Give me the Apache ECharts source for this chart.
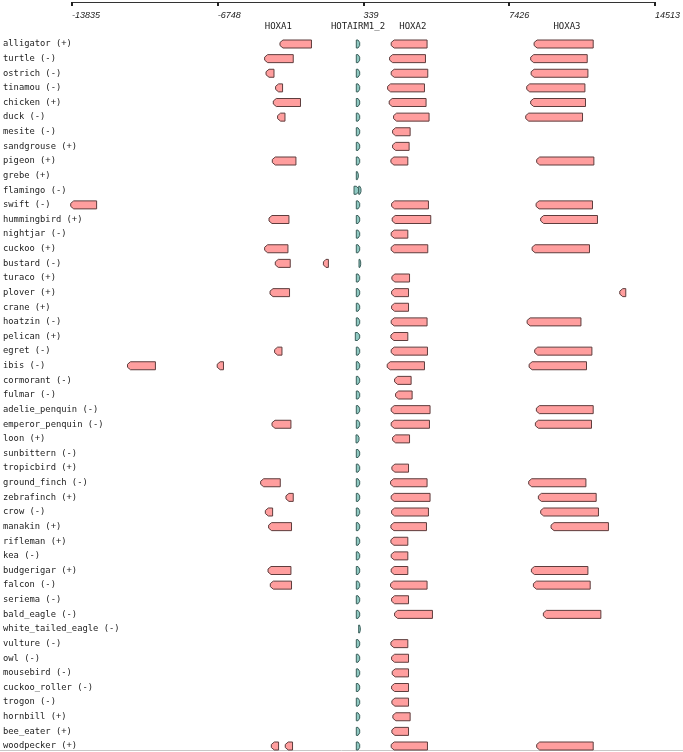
<!DOCTYPE html>
<html>
<head>
<meta charset="utf-8">
<script src="https://cdn.jsdelivr.net/npm/echarts@6/dist/echarts.min.js"></script>
<style>html,body{margin:0;padding:0;background:#fff}#c{width:683px;height:752px}</style>
</head>
<body>
<div id="c"></div>
<script>
const species = ['alligator','turtle','ostrich','tinamou','chicken','duck','mesite','sandgrouse','pigeon','grebe','flamingo','swift','hummingbird','nightjar','cuckoo','bustard','turaco','plover','crane','hoatzin','pelican','egret','ibis','cormorant','fulmar','adelie_penquin','emperor_penquin','loon','sunbittern','tropicbird','ground_finch','zebrafinch','crow','manakin','rifleman','kea','budgerigar','falcon','seriema','bald_eagle','white_tailed_eagle','vulture','owl','mousebird','cuckoo_roller','trogon','hornbill','bee_eater','woodpecker'];
const strands = ['+','-','-','-','+','-','-','+','+','+','-','-','+','-','+','-','+','+','+','-','+','-','-','-','-','-','-','+','-','+','-','+','-','+','+','-','+','-','-','-','-','-','-','-','-','-','+','+','+'];
const xTicks = [-13835, -6748, 339, 7426, 14513];
const geneNames = ['HOXA1','HOTAIRM1_2','HOXA2','HOXA3'];
const geneLabelPos = [-3804, 72, 2738, 10234];

const hoxa1 = [[-3722,-2191],[-4468,-3077],[-4400,-4013],[-3935,-3596],[-4046,-2724],[-3838,-3479],null,null,[-4095,-2946],null,
  null,[-13898,-12638],[-4255,-3286],null,[-4468,-3334],[-3950,-3223],null,[-4206,-3257],null,null,
  null,[-3983,-3625],[-11136,-9779],null,null,null,[-4110,-3189],null,null,null,
  [-4662,-3707],[-3431,-3077],[-4434,-4080],[-4274,-3160],null,null,[-4303,-3189],[-4192,-3160],null,null,
  null,null,null,null,null,null,null,null,[-4143,-3790]];
const hotairm1 = [[-10,155],[-10,155],[-10,155],[-10,155],[-10,155],[-10,155],[-10,155],[-10,155],[-10,155],[-10,87],
  [-121,106],[-10,155],[-10,155],[-10,155],[-10,155],[121,203],[-10,155],[-10,155],[-10,155],[-10,155],
  [-58,155],[-10,155],[-10,155],[-10,155],[-10,155],[-10,155],[-10,155],[-24,121],[-10,155],[-10,155],
  [-10,155],[-10,155],[-10,155],[-10,155],[-10,155],[-10,155],[-10,155],[-10,155],[-10,155],[-10,155],
  [106,184],[-10,155],[-10,155],[-10,155],[-10,155],[-10,155],[-10,155],[-10,155],[-10,155]];
const hoxa2 = [[1686,3431],[1609,3353],[1686,3465],[1512,3305],[1589,3382],[1802,3528],[1754,2607],[1754,2558],[1672,2495],null,
  null,[1706,3498],[1735,3610],[1686,2495],[1686,3465],null,[1720,2578],[1706,2529],[1706,2529],[1686,3431],
  [1672,2495],[1686,3450],[1492,3305],[1851,2655],[1899,2704],[1686,3576],[1686,3547],[1754,2578],null,[1720,2529],
  [1657,3431],[1686,3576],[1706,3498],[1672,3402],[1672,2495],[1686,2495],[1686,2495],[1657,3431],[1706,2529],[1851,3692],
  null,[1672,2495],[1706,2529],[1735,2529],[1706,2529],[1720,2529],[1768,2607],[1720,2529],[1686,3450]];
const hoxa3 = [[8635,11509],[8470,11218],[8490,11252],[8276,11106],[8470,11135],[8228,10990],null,null,[8761,11542],null,
  null,[8732,11475],[8955,11717],null,[8538,11329],null,null,null,null,[8296,10913],
  null,[8664,11446],[8393,11184],null,null,[8746,11509],[8698,11426],null,null,null,
  [8373,11155],[8843,11654],[8955,11765],[9459,12250],null,null,[8504,11252],[8601,11363],null,[9086,11882],
  null,null,null,null,null,null,null,null,[8761,11509]];
// extra fragments: [row, start, end]
const extraPink = [[15,-1609,-1367],[17,12802,13093],[22,-6775,-6469],[48,-3465,-3111]];
const extraTeal = [[10,106,217]];

const rowIdx = species.map((s,i)=>i);

// build data items: [start, end, row, dir(-1 left,1 right), kind(0 pink,1 teal)]
const items = [];
function addList(list, dir, kind){ list.forEach((s,i)=>{ if(s) items.push([s[0], s[1], i, dir, kind]); }); }
addList(hoxa1, -1, 0);
addList(hoxa2, -1, 0);
addList(hoxa3, -1, 0);
addList(hotairm1, 1, 1);
extraPink.forEach(e=>items.push([e[1], e[2], e[0], -1, 0]));
extraTeal.forEach(e=>items.push([e[1], e[2], e[0], 1, 1]));

const labelItems = geneNames.map((n,i)=>[geneLabelPos[i], -1.2, n]);

const chart = echarts.init(document.getElementById('c'), null, {renderer:'canvas'});
const H = 8;
chart.setOption({
  animation:false,
  grid:{left:72, right:26, top:2, bottom:6},
  xAxis:{
    type:'value', position:'top', min:-13835, max:14513,
    axisLine:{show:true, onZero:false, lineStyle:{color:'#333', width:1}},
    axisTick:{show:true, inside:true, length:4, lineStyle:{color:'#222', width:2}, customValues: xTicks},
    axisLabel:{show:true, inside:true, margin:9, align:'left', fontFamily:'Liberation Sans', fontStyle:'italic', fontSize:9, color:'#222', customValues: xTicks, formatter:(v)=>String(v)},
    splitLine:{show:false}
  },
  yAxis:{
    type:'value', inverse:true, min:-2.872, max:48,
    axisLine:{show:false, onZero:false}, axisTick:{show:false}, splitLine:{show:false},
    axisLabel:{show:true, align:'left', margin:69, fontFamily:'DejaVu Sans Mono', fontSize:8.8, color:'#222',
      customValues: rowIdx,
      formatter:(v)=> species[v] !== undefined ? species[v] + ' (' + strands[v] + ')' : ''}
  },
  series:[{
    type:'custom',
    clip:false,
    encode:{x:[0,1], y:2},
    data: items,
    renderItem:function(params, api){
      const s = api.value(0), e = api.value(1), r = api.value(2), dir = api.value(3), kind = api.value(4);
      const p1 = api.coord([s, r]), p2 = api.coord([e, r]);
      const x1 = Math.min(p1[0], p2[0]), x2 = Math.max(p1[0], p2[0]), cy = p1[1];
      const w = x2 - x1;
      const hw = Math.min(3, w/2);
      const t = cy - H/2, b = cy + H/2;
      let pts;
      if (dir < 0) {
        pts = [[x1+hw,t],[x2,t],[x2,b],[x1+hw,b],[x1,cy+1.5],[x1,cy-1.5]];
      } else {
        pts = [[x1,t],[x2-hw,t],[x2,cy-1.5],[x2,cy+1.5],[x2-hw,b],[x1,b]];
      }
      return {
        type:'polygon',
        shape:{points:pts},
        style: kind === 0 ? {fill:'#ff9e9e', stroke:'#5e3d3d', lineWidth:1} : {fill:'#8fc9c2', stroke:'#3b5f5b', lineWidth:1}
      };
    }
  },{
    type:'custom',
    clip:false,
    encode:{x:0, y:1},
    data: labelItems,
    renderItem:function(params, api){
      const p = api.coord([api.value(0), api.value(1)]);
      return {type:'text', x:p[0], y:p[1], style:{text: labelItems[params.dataIndex][2], align:'center', verticalAlign:'middle', fontFamily:'DejaVu Sans Mono', fontSize:9, fill:'#222'}};
    }
  }],
  graphic:[{type:'line', shape:{x1:0, y1:750.5, x2:683, y2:750.5}, style:{stroke:'#c8c8c8', lineWidth:1}}]
});
</script>
</body>
</html>
